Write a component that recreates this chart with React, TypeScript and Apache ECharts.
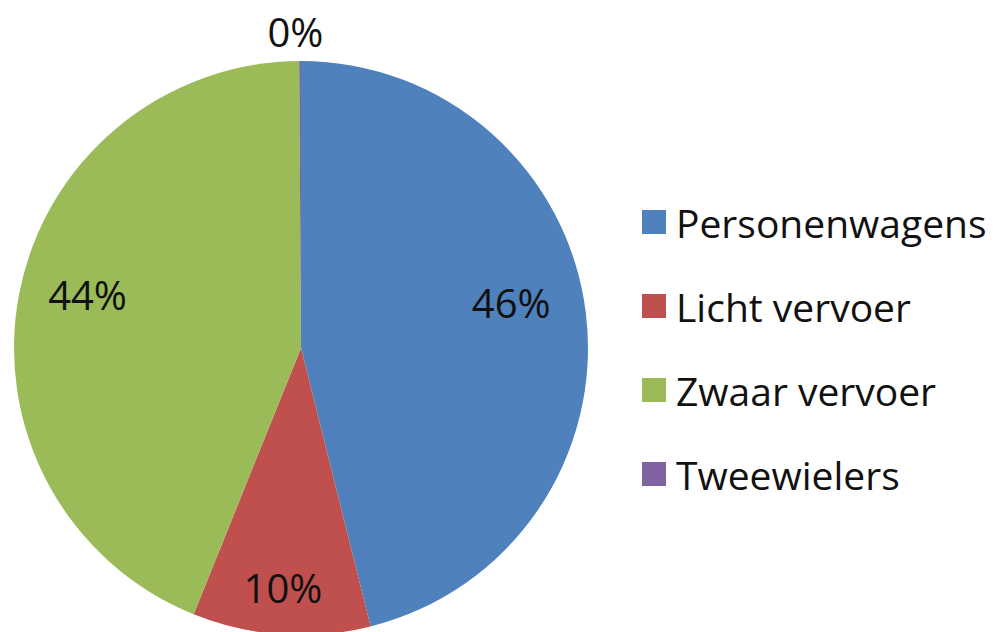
import React, { useEffect, useRef } from "react";
import * as echarts from "echarts";

const categories = ["Personenwagens", "Licht vervoer", "Zwaar vervoer", "Tweewielers"];
const values = [46.1, 10.0, 43.8, 0.1];
const colors = ["#4F81BD", "#C0504D", "#9BBB59", "#8064A2"];

// layout constants
const CX = 301;
const CY = 348;
const R = 287;
// label anchor: [angle from top clockwise (deg), distance from centre in px]
const LABEL_ANCHOR: [number, number][] = [
  [77.9, 215],
  [184.3, 240],
  [284, 220],
  [359, 317],
];

export default function App() {
  const ref = useRef<HTMLDivElement>(null);
  useEffect(() => {
    if (!ref.current) return;
    const chart = echarts.init(ref.current, undefined, { renderer: "svg" });
    const total = values.reduce((a, b) => a + b, 0);
    chart.setOption({
      animation: false,
      backgroundColor: "#ffffff",
      color: colors,
      legend: {
        orient: "vertical",
        left: 637,
        top: 197,
        icon: "rect",
        itemWidth: 24,
        itemHeight: 24,
        itemGap: 44,
        data: categories,
        textStyle: {
          fontFamily: "Open Sans",
          fontSize: 39,
          lineHeight: 40,
          color: "#111111",
          padding: [0, 0, 0, 5],
        },
      },
      series: [
        {
          type: "pie",
          center: [CX, CY],
          radius: R,
          startAngle: 90,
          clockwise: true,
          avoidLabelOverlap: false,
          data: categories.map((name, i) => ({ name, value: values[i] })),
          itemStyle: { borderWidth: 0 },
          emphasis: { disabled: true },
          label: {
            show: true,
            position: "inside",
            fontFamily: "Open Sans",
            fontSize: 40,
            color: "#111111",
            formatter: (p: any) => Math.round((p.value / total) * 100) + "%",
          },
          labelLine: { show: false },
          labelLayout: (params: any) => {
            const [a, d] = LABEL_ANCHOR[params.dataIndex];
            const rad = (a * Math.PI) / 180;
            return {
              x: CX + d * Math.sin(rad),
              y: CY - d * Math.cos(rad),
              align: "center",
              verticalAlign: "middle",
            };
          },
        },
      ],
    });
    return () => chart.dispose();
  }, []);
  return (
    <div
      ref={ref}
      style={{ position: "absolute", left: 0, top: 0, width: 998, height: 632 }}
    />
  );
}
